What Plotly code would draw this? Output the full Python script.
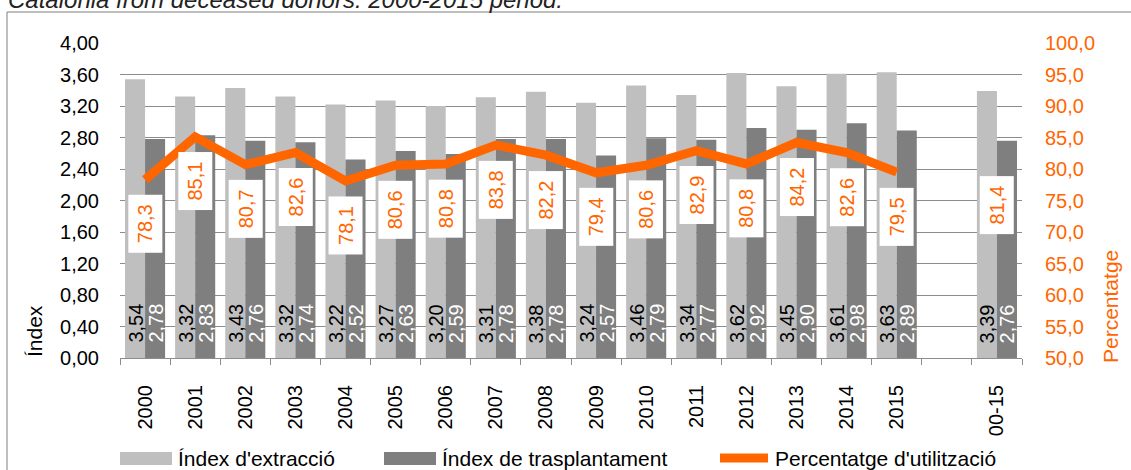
import plotly.graph_objects as go

# ---------------- data ----------------
categories = ["2000", "2001", "2002", "2003", "2004", "2005", "2006", "2007",
              "2008", "2009", "2010", "2011", "2012", "2013", "2014", "2015",
              "\u00a0", "00-15"]
index_extraccio = [3.54, 3.32, 3.43, 3.32, 3.22, 3.27, 3.20, 3.31, 3.38, 3.24,
                   3.46, 3.34, 3.62, 3.45, 3.61, 3.63, None, 3.39]
index_trasplantament = [2.78, 2.83, 2.76, 2.74, 2.52, 2.63, 2.59, 2.78, 2.78, 2.57,
                        2.79, 2.77, 2.92, 2.90, 2.98, 2.89, None, 2.76]
percentatge_utilitzacio = [78.3, 85.1, 80.7, 82.6, 78.1, 80.6, 80.8, 83.8, 82.2, 79.4,
                           80.6, 82.9, 80.8, 84.2, 82.6, 79.5, None, 81.4]
n_line = 16  # the line covers 2000-2015 only

series_names = ["Índex d'extracció", "Índex de trasplantament", "Percentatge d'utilització"]
title_text = "Catalonia from deceased donors. 2000-2015 period."

# ---------------- style ----------------
W, H = 1131, 470
ML, MR, MT, MB = 120, 109, 43, 112
PW, PH = W - ML - MR, H - MT - MB
FONT = "Liberation Sans, Arial, sans-serif"
LIGHT, DARK, ORANGE, GRID = "#BFBFBF", "#7F7F7F", "#FF6600", "#8C8C8C"


def px_x(p):
    return (p - ML) / PW


def px_y(p):
    return (H - MB - p) / PH


def fmt(v, d):
    return f"{v:.{d}f}".replace(".", ",")


fig = go.Figure()
fig.add_trace(go.Bar(x=categories, y=index_extraccio, name=series_names[0],
                     marker=dict(color=LIGHT, line=dict(width=0)), showlegend=False))
fig.add_trace(go.Bar(x=categories, y=index_trasplantament, name=series_names[1],
                     marker=dict(color=DARK, line=dict(width=0)), showlegend=False))
fig.add_trace(go.Scatter(x=categories[:n_line], y=percentatge_utilitzacio[:n_line],
                         name=series_names[2], mode="lines", yaxis="y2",
                         line=dict(color=ORANGE, width=9), showlegend=False))

annotations = []
# bar value labels (inside base, rotated); x given as category index
for i, (a, b) in enumerate(zip(index_extraccio, index_trasplantament)):
    if a is not None:
        annotations.append(dict(x=i, y=0, xref="x", yref="y", text=fmt(a, 2),
                                textangle=-90, showarrow=False, xshift=-10, yshift=13,
                                yanchor="bottom", font=dict(family=FONT, size=20, color="black")))
    if b is not None:
        annotations.append(dict(x=i, y=0, xref="x", yref="y", text=fmt(b, 2),
                                textangle=-90, showarrow=False, xshift=10, yshift=13,
                                yanchor="bottom", font=dict(family=FONT, size=20, color="white")))
# line labels in white boxes
for i, u in enumerate(percentatge_utilitzacio):
    if u is not None:
        annotations.append(dict(x=i, y=u, xref="x", yref="y2", text=fmt(u, 1),
                                textangle=-90, showarrow=False, yanchor="top", yshift=-15,
                                bgcolor="white", width=51, height=27, borderpad=3,
                                font=dict(family=FONT, size=20, color=ORANGE)))
# axis titles
annotations.append(dict(x=px_x(34), y=px_y(331), xref="paper", yref="paper", text="Índex",
                        textangle=-90, showarrow=False, xanchor="center", yanchor="middle",
                        font=dict(family=FONT, size=21, color="black")))
annotations.append(dict(x=px_x(1110), y=px_y(307), xref="paper", yref="paper", text="Percentatge",
                        textangle=-90, showarrow=False, xanchor="center", yanchor="middle",
                        font=dict(family=FONT, size=21, color=ORANGE)))
# title (cut off at the top, as in the original)
annotations.append(dict(x=px_x(6), y=px_y(-1), xref="paper", yref="paper", text=title_text,
                        xanchor="left", yanchor="middle", showarrow=False,
                        font=dict(family=FONT, size=24, color="#222222", style="italic")))

# custom legend
shapes = [
    dict(type="rect", xref="paper", yref="paper", x0=px_x(7), x1=px_x(1145),
         y0=px_y(490), y1=px_y(12), line=dict(color="#7F7F7F", width=1), layer="below"),
    dict(type="rect", xref="paper", yref="paper", x0=px_x(120), x1=px_x(172),
         y0=px_y(465), y1=px_y(452), fillcolor=LIGHT, line=dict(width=0)),
    dict(type="rect", xref="paper", yref="paper", x0=px_x(384), x1=px_x(436),
         y0=px_y(465), y1=px_y(452), fillcolor=DARK, line=dict(width=0)),
    dict(type="line", xref="paper", yref="paper", x0=px_x(720), x1=px_x(768),
         y0=px_y(458), y1=px_y(458), line=dict(color=ORANGE, width=9)),
]
for xpos, name in zip([176, 440, 773], series_names):
    annotations.append(dict(x=px_x(xpos), y=px_y(458), xref="paper", yref="paper", text=name,
                            xanchor="left", yanchor="middle", showarrow=False,
                            font=dict(family=FONT, size=21, color="black")))

fig.update_layout(
    width=W, height=H,
    margin=dict(l=ML, r=MR, t=MT, b=MB, pad=0, autoexpand=False),
    paper_bgcolor="white", plot_bgcolor="white",
    separators=", ",
    barmode="group", bargap=0.2, bargroupgap=0,
    font=dict(family=FONT, size=20, color="black"),
    xaxis=dict(type="category", categoryorder="array", categoryarray=categories,
               range=[-0.5, len(categories) - 0.5], automargin=False,
               ticks="outside", ticklen=6, tickcolor=GRID, tickson="boundaries",
               showline=True, linecolor=GRID, linewidth=1, showgrid=False,
               tickangle=-90, ticklabelstandoff=18,
               tickfont=dict(family=FONT, size=20, color="black")),
    yaxis=dict(range=[0, 4], dtick=0.4, tick0=0, tickformat=".2f", automargin=False,
               showgrid=True, gridcolor=GRID, gridwidth=1, zeroline=False,
               showline=False, ticks="", ticklabelstandoff=20,
               tickfont=dict(family=FONT, size=20, color="black")),
    yaxis2=dict(range=[50, 100], dtick=5, tick0=50, tickformat=".1f", automargin=False,
                overlaying="y", side="right", showgrid=False, zeroline=False,
                showline=False, ticks="", ticklabelstandoff=22,
                tickfont=dict(family=FONT, size=20, color=ORANGE)),
    annotations=annotations,
    shapes=shapes,
    showlegend=False,
)

fig.write_html("out.html", config={"displayModeBar": False},
               post_script="document.body.style.margin='0px';")
